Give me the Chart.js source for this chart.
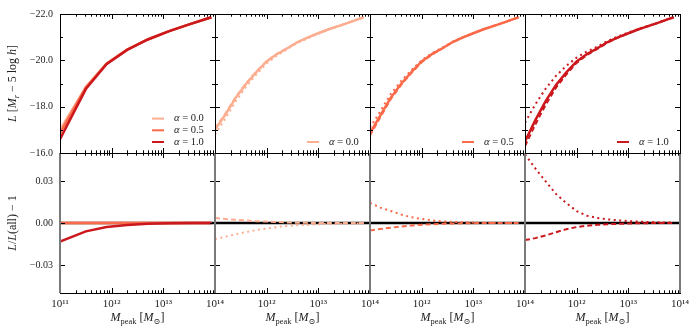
<!DOCTYPE html>
<html><head><meta charset="utf-8">
<script src="https://cdn.jsdelivr.net/npm/chart.js@4.4.1/dist/chart.umd.min.js"></script>
<style>
html,body{margin:0;padding:0;background:#fff;width:700px;height:336px;overflow:hidden}
#wrap{position:relative;width:700px;height:336px}
canvas{position:absolute;left:0;top:0}
</style>
</head><body>
<div id="wrap"></div>
<script>
// ---------------- DATA ----------------
// log10(M_peak) grids
const logM_coarse = [11.0, 11.5, 11.9, 12.3, 12.7, 13.1, 13.5, 13.93];
const logM_fine = [11.0, 11.2, 11.4, 11.6, 11.8, 12.0, 12.2, 12.4, 12.6, 12.8, 13.0, 13.2, 13.4, 13.6, 13.8, 13.88];

// Panel 1 (top): L for each alpha
const L_a00_coarse = [-17.0, -18.85, -19.86, -20.46, -20.9, -21.25, -21.55, -21.86];
const L_a05_coarse = [-16.85, -18.83, -19.86, -20.46, -20.9, -21.25, -21.55, -21.86];
const L_a10_coarse = [-16.6, -18.76, -19.83, -20.45, -20.9, -21.25, -21.55, -21.86];
// Panel 1 (bottom): L/L(all)-1
const R_a00_coarse = [0, 0, 0, 0, 0, 0, 0, 0];
const R_a05_coarse = [0, 0, 0, 0, 0, 0, 0, 0];
const R_a10_coarse = [-0.0132, -0.006, -0.0029, -0.0014, -0.0005, -0.0002, 0, 0];

// Panel 2: alpha = 0.0
const L_a00_solid  = [-17.0, -17.65, -18.38, -18.98, -19.49, -19.95, -20.27, -20.52, -20.79, -20.99, -21.17, -21.34, -21.49, -21.64, -21.8, -21.86];
const L_a00_dashed = [-17.06, -17.7, -18.42, -19.01, -19.52, -19.97, -20.28, -20.53, -20.79, -20.99, -21.17, -21.34, -21.49, -21.64, -21.8, -21.86];
const L_a00_dotted = [-16.8, -17.48, -18.23, -18.86, -19.39, -19.87, -20.21, -20.48, -20.76, -20.96, -21.15, -21.32, -21.48, -21.63, -21.79, -21.85];
const R_a00_dashed = [0.0036, 0.0029, 0.0023, 0.0018, 0.0013, 0.001, 0.0007, 0.0004, 0.0002, 0.0001, 0, 0, 0, 0, 0, 0];
const R_a00_dotted = [-0.0115, -0.0098, -0.008, -0.0065, -0.005, -0.0039, -0.0029, -0.0021, -0.0016, -0.0012, -0.0009, -0.0007, -0.0006, -0.0005, -0.0003, -0.0003];

// Panel 3: alpha = 0.5
const L_a05_solid  = [-16.85, -17.62, -18.38, -18.98, -19.49, -19.95, -20.27, -20.52, -20.79, -20.99, -21.17, -21.34, -21.49, -21.64, -21.8, -21.86];
const L_a05_dashed = [-16.76, -17.54, -18.32, -18.93, -19.45, -19.92, -20.25, -20.51, -20.78, -20.99, -21.17, -21.34, -21.49, -21.64, -21.8, -21.86];
const L_a05_dotted = [-17.09, -17.81, -18.54, -19.1, -19.57, -20.01, -20.31, -20.54, -20.81, -21.0, -21.18, -21.34, -21.49, -21.64, -21.8, -21.86];
const R_a05_dashed = [-0.0053, -0.0043, -0.0034, -0.0025, -0.0018, -0.0013, -0.0009, -0.0006, -0.0004, -0.0002, -0.0001, 0, 0, 0, 0, 0];
const R_a05_dotted = [0.0144, 0.011, 0.0086, 0.0061, 0.0041, 0.0029, 0.0019, 0.0012, 0.0008, 0.0005, 0.0003, 0.0002, 0.0001, 0, 0, 0];

// Panel 4: alpha = 1.0
const L_a10_solid  = [-16.5, -17.42, -18.24, -18.94, -19.48, -19.95, -20.27, -20.52, -20.79, -20.99, -21.17, -21.34, -21.49, -21.64, -21.8, -21.86];
const L_a10_dashed = [-16.3, -17.23, -18.08, -18.82, -19.39, -19.89, -20.23, -20.49, -20.77, -20.98, -21.16, -21.34, -21.49, -21.64, -21.8, -21.86];
const L_a10_dotted = [-17.31, -18.1, -18.78, -19.33, -19.76, -20.12, -20.38, -20.59, -20.84, -21.03, -21.2, -21.36, -21.5, -21.65, -21.81, -21.86];
const R_a10_dashed = [-0.0122, -0.0108, -0.0089, -0.0066, -0.0044, -0.0029, -0.0019, -0.0013, -0.0009, -0.0006, -0.0004, -0.0002, -0.0001, 0, 0, 0];
const R_a10_dotted = [0.049, 0.039, 0.0297, 0.0207, 0.0142, 0.0085, 0.0052, 0.0036, 0.0026, 0.0019, 0.0014, 0.001, 0.0007, 0.0005, 0.0003, 0.0002];

// reference zero line
const zeroLogM = [11, 14];
const zeroVals = [0, 0];

// ticks
const xDecades = [11, 12, 13, 14];
const xTickLabels = ['10\u00B9\u00B9', '10\u00B9\u00B2', '10\u00B9\u00B3', '10\u00B9\u2074'];
const yTopTicks = [-22, -20, -18, -16];
const yTopMinor = [-21, -19, -17];
const yBotTicks = [-0.03, 0, 0.03];
const legendLabels = ['0.0', '0.5', '1.0'];

// ---------------- STYLE ----------------
const FONT = "'Liberation Serif', 'DejaVu Serif', serif";
const C0 = '#fcae91', C05 = '#fb6a4a', C1 = '#cb181d';
const PX = [[60, 215], [215, 370], [370, 525], [525, 680]];
const PY = { top: [14, 153], bottom: [153, 293] };
const DASH = [5, 3], DOT = [2, 3.5];
const YAXIS_W = 50, XAXIS_H = 26;

function pts(xs, ys) { return xs.map((v, i) => ({ x: Math.pow(10, v), y: ys[i] })); }
function ds(xs, ys, color, width, dash) {
  return { data: pts(xs, ys), borderColor: color, borderWidth: width, borderDash: dash || [],
           pointRadius: 0, fill: false, tension: 0, borderCapStyle: 'butt' };
}

function drawRich(ctx, segs, x, y, size, align) {
  const fontOf = s => (s.it ? 'italic ' : '') + ((s.sub || s.sup) ? size * 0.7 : size) + 'px ' + FONT;
  let w = 0;
  segs.forEach(s => { ctx.font = fontOf(s); w += ctx.measureText(s.t).width; });
  let cx = align === 'center' ? x - w / 2 : (align === 'right' ? x - w : x);
  ctx.textAlign = 'left'; ctx.textBaseline = 'middle';
  segs.forEach(s => {
    ctx.font = fontOf(s);
    const dy = s.sub ? size * 0.28 : (s.sup ? -size * 0.35 : 0);
    ctx.fillText(s.t, cx, y + dy);
    cx += ctx.measureText(s.t).width;
  });
}

const decor = {
  id: 'decor',
  afterDatasetsDraw(chart, args, o) {
    const ctx = chart.ctx, a = chart.chartArea, xs = chart.scales.x, ys = chart.scales.y;
    ctx.save();
    const line = (x1, y1, x2, y2) => { ctx.beginPath(); ctx.moveTo(x1, y1); ctx.lineTo(x2, y2); ctx.stroke(); };
    ctx.strokeStyle = '#000'; ctx.lineWidth = 1;
    // x ticks (inward, top and bottom)
    for (let d = 11; d < 14; d++) {
      for (let k = 1; k < 10; k++) {
        if (d === 11 && k === 1) continue;
        const x = Math.round(xs.getPixelForValue(k * Math.pow(10, d))) + 0.5;
        const L = k === 1 ? 5 : 2.7;
        line(x, a.bottom, x, a.bottom - L);
        line(x, a.top, x, a.top + L);
      }
    }
    // y ticks (inward, left and right)
    const major = o.row === 'top' ? yTopTicks : yBotTicks;
    const minor = o.row === 'top' ? yTopMinor : [];
    major.concat(minor).forEach(v => {
      const y = Math.round(ys.getPixelForValue(v)) + 0.5;
      const L = minor.includes(v) ? 3 : 5;
      line(a.left, y, a.left + L, y);
      line(a.right, y, a.right - L, y);
    });
    // borders
    if (o.row === 'top') {
      ctx.strokeStyle = '#000'; ctx.lineWidth = 1;
      line(a.left, a.top + 0.5, a.right + 1, a.top + 0.5);
      line(a.left, a.bottom + 0.5, a.right + 1, a.bottom + 0.5);
      line(a.left + 0.5, a.top, a.left + 0.5, a.bottom);
      line(a.right + 0.5, a.top, a.right + 0.5, a.bottom);
    } else {
      ctx.strokeStyle = '#7a7a7a'; ctx.lineWidth = 2;
      line(a.left + (o.col === 0 ? 0 : 0), a.top, a.left, a.bottom);
      line(a.right, a.top, a.right, a.bottom);
      ctx.strokeStyle = '#000'; ctx.lineWidth = 1;
      line(a.left, a.top + 0.5, a.right + 1, a.top + 0.5);
      line(a.left, a.bottom + 0.5, a.right + 1, a.bottom + 0.5);
    }
    // legend
    if (o.legend) {
      ctx.fillStyle = '#222';
      o.legend.forEach((e, i) => {
        const y = 142 - (o.legend.length - 1 - i) * 11.7;
        ctx.strokeStyle = e.color; ctx.lineWidth = 2; ctx.setLineDash([]);
        line(a.right - 63, y, a.right - 51, y);
        drawRich(ctx, [{ t: '\u03B1', it: true }, { t: ' = ' + e.label }], a.right - 41, y, 10.5, 'left');
      });
    }
    // axis titles
    ctx.fillStyle = '#222';
    if (o.col === 0) {
      ctx.save();
      const cy = (a.top + a.bottom) / 2;
      ctx.translate(13, cy); ctx.rotate(-Math.PI / 2);
      if (o.row === 'top') {
        drawRich(ctx, [{ t: 'L', it: true }, { t: ' [' }, { t: 'M', it: true }, { t: 'r', it: true, sub: true },
          { t: ' \u2212 5 log ' }, { t: 'h', it: true }, { t: ']' }], 0, 0, 12, 'center');
      } else {
        drawRich(ctx, [{ t: 'L', it: true }, { t: '/' }, { t: 'L', it: true }, { t: '(all) \u2212 1' }], 0, 0, 12, 'center');
      }
      ctx.restore();
    }
    if (o.row === 'bottom') {
      drawRich(ctx, [{ t: 'M', it: true }, { t: 'peak', sub: true }, { t: ' [' }, { t: 'M', it: true },
        { t: '\u2299', sub: true }, { t: ']' }], (a.left + a.right) / 2, 318, 12, 'center');
    }
    ctx.restore();
  }
};

function makeChart(row, col, datasets, legend) {
  const cv = document.createElement('canvas');
  cv.width = 700; cv.height = 336;
  document.getElementById('wrap').appendChild(cv);
  const [x0, x1] = PX[col], [y0, y1] = PY[row];
  const yW = col === 0 ? YAXIS_W : 0;
  const xH = row === 'bottom' ? XAXIS_H : 0;
  const fmtY = v => (row === 'top' ? v.toFixed(1) : v.toFixed(2)).replace('-', '\u2212');
  return new Chart(cv, {
    type: 'line',
    data: { datasets },
    options: {
      responsive: false, animation: false, devicePixelRatio: 1,
      layout: { padding: { left: x0 - yW, right: 700 - x1, top: y0, bottom: 336 - y1 - xH } },
      plugins: { legend: { display: false }, tooltip: { enabled: false }, decor: { row, col, legend } },
      scales: {
        x: {
          type: 'logarithmic', min: 1e11, max: 1e14,
          grid: { display: false, drawTicks: false }, border: { display: false },
          afterBuildTicks: s => {
            s.ticks = xDecades.filter(d => col === 0 || d > 11).map(d => ({ value: Math.pow(10, d) }));
          },
          afterFit: s => { s.height = xH; },
          ticks: {
            display: row === 'bottom', padding: 5, autoSkip: false, maxRotation: 0, minRotation: 0, color: '#222',
            font: { family: FONT, size: 11 },
            callback: v => xTickLabels[xDecades.indexOf(Math.round(Math.log10(v)))]
          }
        },
        y: {
          type: 'linear',
          min: row === 'top' ? -22 : -0.05, max: row === 'top' ? -16 : 0.05,
          reverse: row === 'top',
          grid: { display: false, drawTicks: false }, border: { display: false },
          afterBuildTicks: s => { s.ticks = (row === 'top' ? yTopTicks : yBotTicks).map(v => ({ value: v })); },
          afterFit: s => { s.width = yW; },
          ticks: {
            display: col === 0, padding: 7, color: '#222',
            font: { family: FONT, size: 10 },
            callback: v => fmtY(v)
          }
        }
      }
    },
    plugins: [decor]
  });
}

const colors = [C0, C05, C1];
const leg = i => [{ color: colors[i], label: legendLabels[i] }];

// Panel 1
makeChart('top', 0, [
  ds(logM_coarse, L_a10_coarse, C1, 2.5),
  ds(logM_coarse, L_a05_coarse, C05, 2.5),
  ds(logM_coarse, L_a00_coarse, C0, 2.5)
], [{ color: C0, label: '0.0' }, { color: C05, label: '0.5' }, { color: C1, label: '1.0' }]);
makeChart('bottom', 0, [
  ds(logM_coarse, R_a10_coarse, C1, 2.5),
  ds(logM_coarse, R_a05_coarse, C05, 2.5),
  ds(logM_coarse, R_a00_coarse, C0, 2.5),
  ds(zeroLogM, zeroVals, '#000', 2.5)
]);

// Panels 2-4
const sets = [
  [C0, L_a00_solid, L_a00_dashed, L_a00_dotted, R_a00_dashed, R_a00_dotted],
  [C05, L_a05_solid, L_a05_dashed, L_a05_dotted, R_a05_dashed, R_a05_dotted],
  [C1, L_a10_solid, L_a10_dashed, L_a10_dotted, R_a10_dashed, R_a10_dotted]
];
sets.forEach((s, i) => {
  const [c, Ls, Ld, Lo, Rd, Ro] = s;
  makeChart('top', i + 1, [
    ds(logM_fine, Lo, c, 2, DOT),
    ds(logM_fine, Ld, c, 2, DASH),
    ds(logM_fine, Ls, c, 2.5)
  ], leg(i));
  makeChart('bottom', i + 1, [
    ds(logM_fine, Ro, c, 2, DOT),
    ds(logM_fine, Rd, c, 2, DASH),
    ds(zeroLogM, zeroVals, '#000', 2.5)
  ]);
});
</script>
</body></html>
